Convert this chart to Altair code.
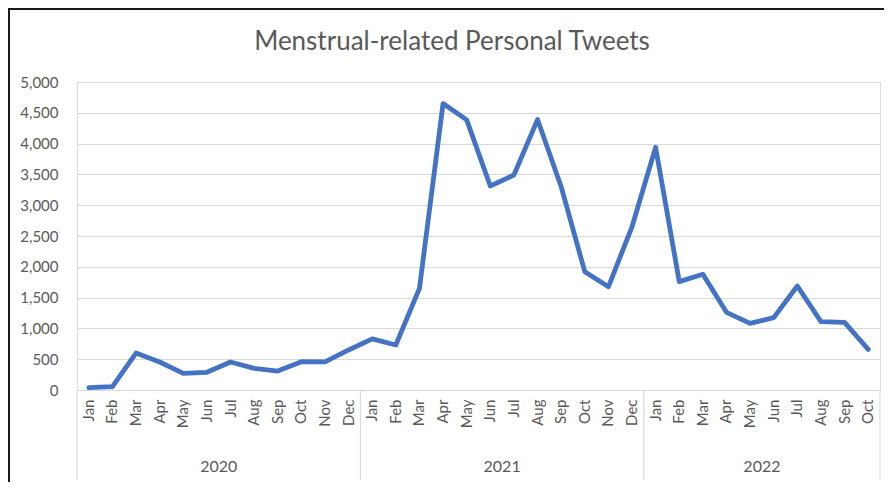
import altair as alt
import pandas as pd

months = ["Jan", "Feb", "Mar", "Apr", "May", "Jun", "Jul", "Aug", "Sep", "Oct", "Nov", "Dec"]
years = ["2020", "2021", "2022"]
months_per_year = [12, 12, 10]
tweets = [
    40, 55, 600, 455, 270, 287, 455, 352, 308, 460, 455, 650,
    830, 730, 1650, 4650, 4385, 3312, 3490, 4390, 3300, 1920, 1675, 2650,
    3940, 1760, 1878, 1261, 1082, 1174, 1688, 1109, 1099, 660,
]
title_text = "Menstrual-related Personal Tweets"

keys, mon_col, year_col = [], [], []
for y, n in zip(years, months_per_year):
    for m in months[:n]:
        keys.append(f"{m} {y}")
        mon_col.append(m)
        year_col.append(y)

df = pd.DataFrame({"key": keys, "month": mon_col, "year": year_col, "tweets": tweets})

sep_left = pd.DataFrame({"key": [f"Jan {y}" for y in years]})
sep_right = pd.DataFrame({"key": [keys[-1]]})
year_lab = pd.DataFrame({
    "key": [f"{months[n // 2]} {y}" for y, n in zip(years, months_per_year)],
    "year": years,
})
title_df = pd.DataFrame({"t": [title_text]})

GRAY = "#595959"
GRID = "#d9d9d9"
FONT = "Lato"
W, H = 803, 308

xscale = alt.Scale(type="band", domain=keys, paddingInner=0, paddingOuter=0)

line = alt.Chart(df).mark_line(
    color="#4472C4", strokeWidth=4.8, strokeJoin="round", strokeCap="round"
).encode(
    x=alt.X(
        "key:N", scale=xscale, bandPosition=0.5,
        axis=alt.Axis(
            title=None, labelExpr="slice(datum.label, 0, 3)", labelAngle=-90,
            ticks=False, domain=False, grid=False, labelPadding=9,
            labelFontSize=15, labelFont=FONT, labelColor=GRAY,
            labelAlign="right", labelBaseline="middle", labelOverlap=False,
        ),
    ),
    y=alt.Y(
        "tweets:Q",
        scale=alt.Scale(domain=[0, 5000], nice=False),
        axis=alt.Axis(
            title=None, values=list(range(0, 5001, 500)), format=",.0f",
            ticks=False, domain=False, grid=True, gridColor=GRID, gridWidth=1.2,
            labelPadding=19, labelFontSize=15, labelFont=FONT, labelColor=GRAY,
        ),
    ),
)

rules_l = alt.Chart(sep_left).mark_rule(color=GRID, strokeWidth=1.2).encode(
    x=alt.X("key:N", scale=xscale, bandPosition=0),
    y=alt.value(H), y2=alt.value(H + 90),
)
rules_r = alt.Chart(sep_right).mark_rule(color=GRID, strokeWidth=1.2).encode(
    x=alt.X("key:N", scale=xscale, bandPosition=1),
    y=alt.value(H), y2=alt.value(H + 90),
)
ylabels = alt.Chart(year_lab).mark_text(
    font=FONT, fontSize=16, color=GRAY, baseline="middle", align="center"
).encode(
    x=alt.X("key:N", scale=xscale, bandPosition=0),
    y=alt.value(H + 77),
    text="year:N",
)

title = alt.Chart(title_df).mark_text(
    font=FONT, fontSize=26, color=GRAY, baseline="alphabetic", align="center"
).encode(
    x=alt.value(375), y=alt.value(-32), text="t:N",
)

border_l = alt.Chart(sep_right).mark_rule(color="#1a1a1a", strokeWidth=2).encode(
    x=alt.value(-68), y=alt.value(-74), y2=alt.value(H + 100),
)
border_t = alt.Chart(sep_right).mark_rule(color="#1a1a1a", strokeWidth=2).encode(
    x=alt.value(-69), x2=alt.value(W + 4), y=alt.value(-73),
)

chart = alt.layer(line, rules_l, rules_r, ylabels, title, border_l, border_t).properties(
    width=W,
    height=H,
    autosize=alt.AutoSizeParams(type="none"),
    padding={"left": 69, "top": 74, "right": 4, "bottom": 92},
).configure_view(stroke=None).configure(background="white")

chart.save("out.html", embed_options={"renderer": "svg", "actions": False})
